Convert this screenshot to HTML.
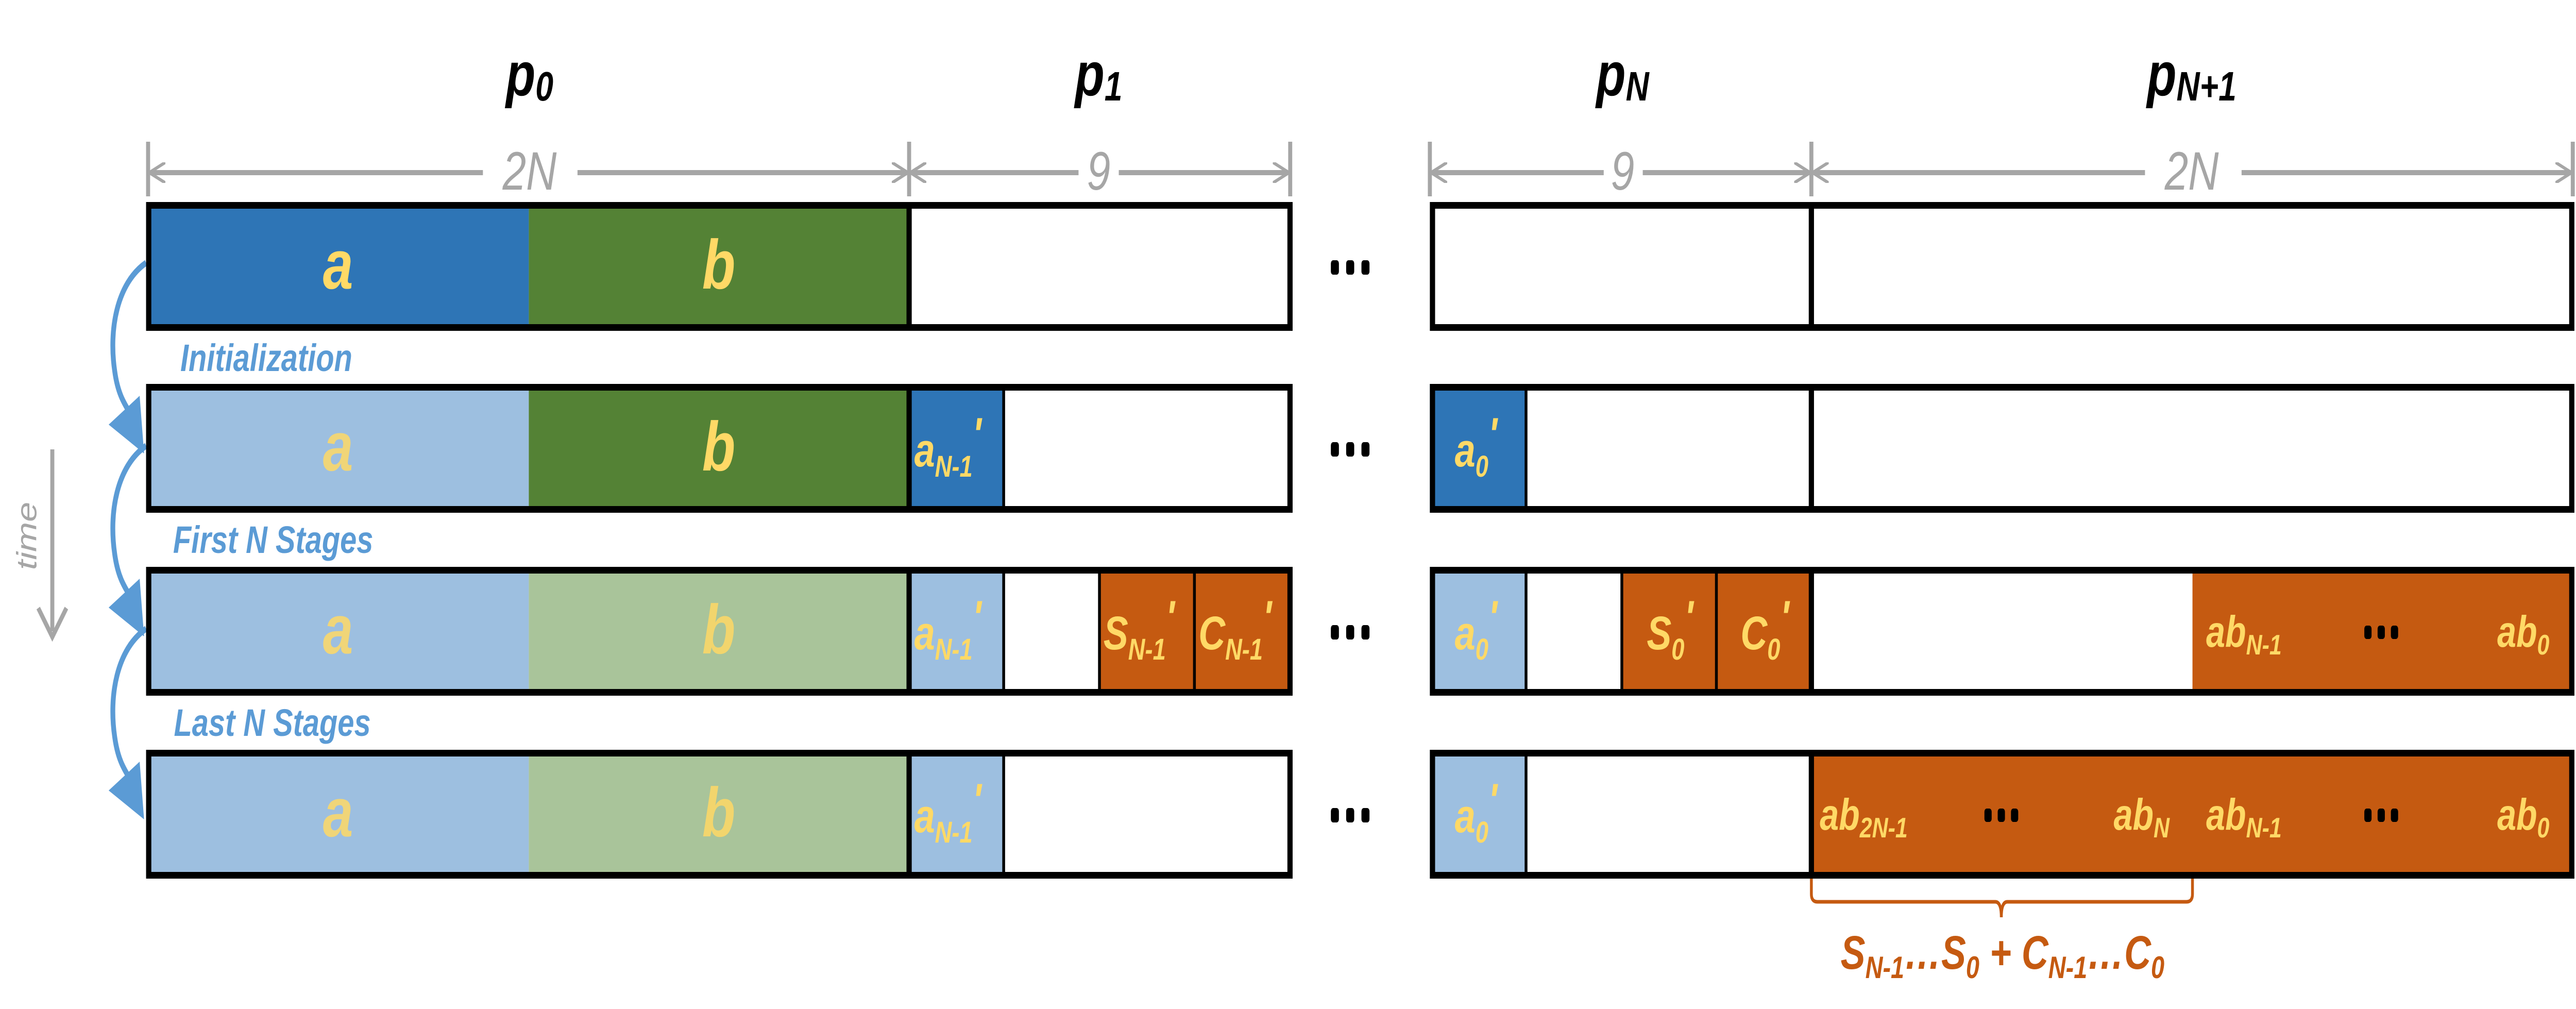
<!DOCTYPE html>
<html><head><meta charset="utf-8"><style>html,body{margin:0;padding:0;background:#fff;overflow:hidden;width:100%;height:100%}svg{display:block;position:fixed;left:0;top:0;width:100vw;height:100vh}</style></head>
<body>
<svg viewBox="0 0 6401 1958" preserveAspectRatio="none" xmlns="http://www.w3.org/2000/svg" font-family="'Liberation Sans', sans-serif" font-style="italic" font-weight="bold">
<defs>
<marker id="ga" viewBox="0 0 10 10" refX="9" refY="5" markerWidth="4" markerHeight="4" orient="auto-start-reverse"><path d="M0,0 L10,5 L0,10" fill="none" stroke="#a6a6a6" stroke-width="1.6"/></marker>
</defs>
<g font-size="120" fill="#000" text-anchor="middle">
<text x="1316" y="185">p<tspan font-size="80" dy="10">0</tspan></text>
<text x="2730" y="185">p<tspan font-size="80" dy="10">1</tspan></text>
<text x="4032" y="185">p<tspan font-size="80" dy="10">N</tspan></text>
<text x="5446" y="185">p<tspan font-size="80" dy="10">N+1</tspan></text>
</g>
<g stroke="#a6a6a6" stroke-width="10" fill="none">
<line x1="368" y1="275" x2="368" y2="381"/><line x1="2259" y1="275" x2="2259" y2="381"/><line x1="3206" y1="275" x2="3206" y2="381"/>
<line x1="3553" y1="275" x2="3553" y2="381"/><line x1="4501" y1="275" x2="4501" y2="381"/><line x1="6393" y1="275" x2="6393" y2="381"/>
<line x1="375" y1="335" x2="1200" y2="335" marker-start="url(#ga)"/><line x1="1435" y1="335" x2="2252" y2="335" marker-end="url(#ga)"/>
<line x1="2266" y1="335" x2="2680" y2="335" marker-start="url(#ga)"/><line x1="2780" y1="335" x2="3199" y2="335" marker-end="url(#ga)"/>
<line x1="3560" y1="335" x2="3985" y2="335" marker-start="url(#ga)"/><line x1="4082" y1="335" x2="4494" y2="335" marker-end="url(#ga)"/>
<line x1="4508" y1="335" x2="5330" y2="335" marker-start="url(#ga)"/><line x1="5570" y1="335" x2="6386" y2="335" marker-end="url(#ga)"/>
</g>
<g font-size="105" fill="#a6a6a6" font-weight="normal" text-anchor="middle">
<text x="1316" y="368">2N</text><text x="2730" y="368">9</text><text x="4032" y="368">9</text><text x="5446" y="368">2N</text>
</g>
<line x1="130" y1="872" x2="130" y2="1225" stroke="#a6a6a6" stroke-width="10"/>
<path d="M95,1180 L130,1236 L165,1180" stroke="#a6a6a6" stroke-width="10" fill="none"/>
<text transform="translate(90,1040) rotate(-90)" font-size="70" fill="#a6a6a6" font-weight="normal" text-anchor="middle">time</text>
<g stroke="#5b9bd5" stroke-width="12" fill="none">
<path d="M363,510 C290,550 270,640 285,720 C292,760 305,780 330,810"/>
<path d="M363,865 C290,905 270,995 285,1075 C292,1115 305,1135 330,1165"/>
<path d="M363,1220 C290,1260 270,1350 285,1430 C292,1470 305,1490 330,1520"/>
</g>
<g fill="#5b9bd5">
<path d="M347,768 L270,824 L358,880 Z"/>
<path d="M347,1123 L270,1179 L358,1235 Z"/>
<path d="M347,1478 L270,1534 L358,1590 Z"/>
</g>
<g font-size="74" fill="#5b9bd5">
<text x="448" y="720">Initialization</text>
<text x="430" y="1073">First N Stages</text>
<text x="432" y="1428">Last N Stages</text>
</g>
<rect x="363" y="392" width="951" height="250" fill="#2e75b6"/>
<rect x="1314" y="392" width="945" height="250" fill="#548235"/>
<rect x="363" y="745" width="951" height="250" fill="#9dbfe0"/>
<rect x="1314" y="745" width="945" height="250" fill="#548235"/>
<rect x="2259" y="745" width="235" height="250" fill="#2e75b6"/>
<rect x="3553" y="745" width="239" height="250" fill="#2e75b6"/>
<rect x="363" y="1100" width="951" height="250" fill="#9dbfe0"/>
<rect x="1314" y="1100" width="945" height="250" fill="#a9c49a"/>
<rect x="2259" y="1100" width="235" height="250" fill="#9dbfe0"/>
<rect x="2732" y="1100" width="480" height="250" fill="#c55a11"/>
<rect x="3553" y="1100" width="239" height="250" fill="#9dbfe0"/>
<rect x="4030" y="1100" width="471" height="250" fill="#c55a11"/>
<rect x="5448" y="1100" width="949" height="250" fill="#c55a11"/>
<rect x="363" y="1455" width="951" height="250" fill="#9dbfe0"/>
<rect x="1314" y="1455" width="945" height="250" fill="#a9c49a"/>
<rect x="2259" y="1455" width="235" height="250" fill="#9dbfe0"/>
<rect x="3553" y="1455" width="239" height="250" fill="#9dbfe0"/>
<rect x="4501" y="1455" width="1896" height="250" fill="#c55a11"/>
<g stroke="#000" stroke-width="13" fill="none">
<rect x="369.5" y="398.5" width="2836" height="237"/><rect x="3559.5" y="398.5" width="2831" height="237"/>
<rect x="369.5" y="751.5" width="2836" height="237"/><rect x="3559.5" y="751.5" width="2831" height="237"/>
<rect x="369.5" y="1106.5" width="2836" height="237"/><rect x="3559.5" y="1106.5" width="2831" height="237"/>
<rect x="369.5" y="1461.5" width="2836" height="237"/><rect x="3559.5" y="1461.5" width="2831" height="237"/>
<line x1="2259" y1="392" x2="2259" y2="642"/><line x1="4501" y1="392" x2="4501" y2="642"/>
<line x1="2259" y1="745" x2="2259" y2="995"/><line x1="4501" y1="745" x2="4501" y2="995"/>
<line x1="2259" y1="1100" x2="2259" y2="1350"/><line x1="4501" y1="1100" x2="4501" y2="1350"/>
<line x1="2259" y1="1455" x2="2259" y2="1705"/><line x1="4501" y1="1455" x2="4501" y2="1705"/>
</g>
<g stroke="#000" stroke-width="7">
<line x1="2494" y1="745" x2="2494" y2="995"/><line x1="3792" y1="745" x2="3792" y2="995"/>
<line x1="2494" y1="1100" x2="2494" y2="1350"/><line x1="2732" y1="1100" x2="2732" y2="1350"/><line x1="2968" y1="1100" x2="2968" y2="1350"/>
<line x1="3792" y1="1100" x2="3792" y2="1350"/><line x1="4030" y1="1100" x2="4030" y2="1350"/><line x1="4265" y1="1100" x2="4265" y2="1350"/>
<line x1="2494" y1="1455" x2="2494" y2="1705"/><line x1="3792" y1="1455" x2="3792" y2="1705"/>
</g>
<g fill="#ffd966" font-size="135" text-anchor="middle">
<text x="840" y="560">a</text><text x="1786" y="560">b</text>
<text x="840" y="913" opacity="0.85">a</text><text x="1786" y="913">b</text>
<text x="840" y="1268" opacity="0.85">a</text><text x="1786" y="1268" opacity="0.85">b</text>
<text x="840" y="1623" opacity="0.85">a</text><text x="1786" y="1623" opacity="0.85">b</text>
</g>
<g fill="#ffd966" font-size="92">
<text x="2272" y="905">a<tspan font-size="58" dy="20">N-1</tspan><tspan dy="-50">'</tspan></text>
<text x="2272" y="1260">a<tspan font-size="58" dy="20">N-1</tspan><tspan dy="-50">'</tspan></text>
<text x="2272" y="1615">a<tspan font-size="58" dy="20">N-1</tspan><tspan dy="-50">'</tspan></text>
<text x="2742" y="1260">S<tspan font-size="58" dy="20">N-1</tspan><tspan dy="-50">'</tspan></text>
<text x="2978" y="1260">C<tspan font-size="58" dy="20">N-1</tspan><tspan dy="-50">'</tspan></text>
<text x="3615" y="905">a<tspan font-size="58" dy="20">0</tspan><tspan dy="-50">'</tspan></text>
<text x="3615" y="1260">a<tspan font-size="58" dy="20">0</tspan><tspan dy="-50">'</tspan></text>
<text x="3615" y="1615">a<tspan font-size="58" dy="20">0</tspan><tspan dy="-50">'</tspan></text>
<text x="4092" y="1260">S<tspan font-size="58" dy="20">0</tspan><tspan dy="-50">'</tspan></text>
<text x="4325" y="1260">C<tspan font-size="58" dy="20">0</tspan><tspan dy="-50">'</tspan></text>
</g>
<g fill="#ffd966" font-size="85">
<text x="5482" y="1255">ab<tspan font-size="55" dy="15">N-1</tspan></text>
<text x="6335" y="1255" text-anchor="end">ab<tspan font-size="55" dy="15">0</tspan></text>
<text x="4522" y="1610">ab<tspan font-size="55" dy="15">2N-1</tspan></text>
<text x="5391" y="1610" text-anchor="end">ab<tspan font-size="55" dy="15">N</tspan></text>
<text x="5482" y="1610">ab<tspan font-size="55" dy="15">N-1</tspan></text>
<text x="6335" y="1610" text-anchor="end">ab<tspan font-size="55" dy="15">0</tspan></text>
</g>
<g fill="#000">
<g id="el"><rect x="3307" y="505" width="20" height="28" rx="6"/><rect x="3345" y="505" width="20" height="28" rx="6"/><rect x="3383" y="505" width="20" height="28" rx="6"/></g>
<use href="#el" y="353"/><use href="#el" y="708"/><use href="#el" y="1063"/>
<g id="el2"><rect x="5875" y="1214" width="18" height="26" rx="6"/><rect x="5908" y="1214" width="18" height="26" rx="6"/><rect x="5941" y="1214" width="18" height="26" rx="6"/></g>
<use href="#el2" y="355"/>
<use href="#el2" x="-944" y="355"/>
</g>
<path d="M4501,1705 L4501,1735 Q4501,1750 4516,1750 L4958,1750 Q4973,1750 4973,1780 Q4973,1750 4988,1750 L5433,1750 Q5448,1750 5448,1735 L5448,1705" stroke="#c55a11" stroke-width="7" fill="none"/>
<text x="4976" y="1880" text-anchor="middle" font-size="92" fill="#c55a11">S<tspan font-size="60" dy="18">N-1</tspan><tspan dy="-18">…S</tspan><tspan font-size="60" dy="18">0</tspan><tspan dy="-18"> + C</tspan><tspan font-size="60" dy="18">N-1</tspan><tspan dy="-18">…C</tspan><tspan font-size="60" dy="18">0</tspan></text>
</svg>
</body></html>
